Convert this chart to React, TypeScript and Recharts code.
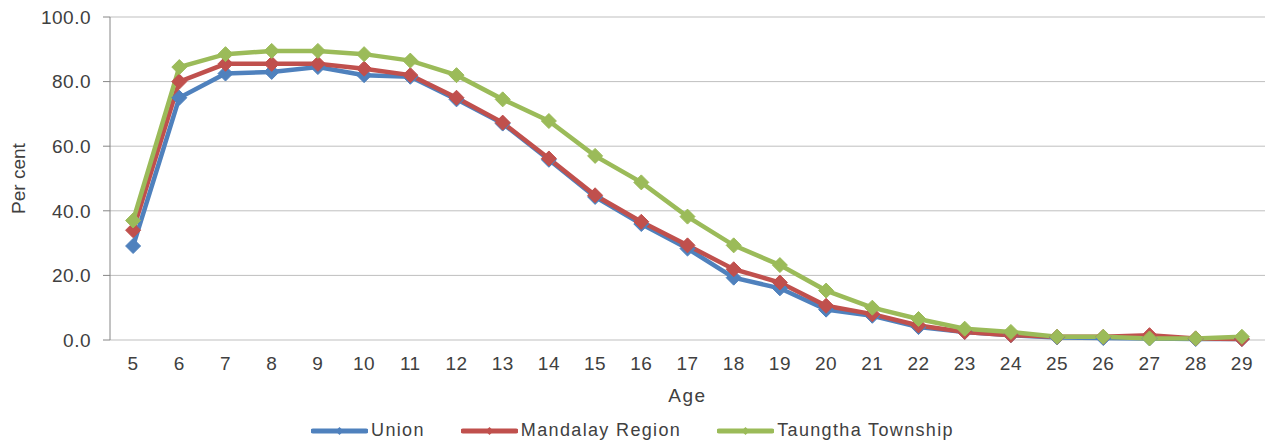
import React from "react";
import { LineChart, Line, XAxis, YAxis, CartesianGrid, Legend } from "recharts";

// ages 5..29
const ages = [5, 6, 7, 8, 9, 10, 11, 12, 13, 14, 15, 16, 17, 18, 19, 20, 21, 22, 23, 24, 25, 26, 27, 28, 29];
const union = [29.1, 75.0, 82.5, 83.0, 84.5, 82.0, 81.5, 74.5, 67.0, 55.8, 44.3, 35.9, 28.3, 19.3, 16.0, 9.4, 7.5, 4.0, 2.5, 1.5, 0.8, 0.6, 0.5, 0.3, 0.3];
const mandalay = [34.0, 80.0, 85.5, 85.5, 85.5, 84.0, 82.0, 75.0, 67.3, 56.2, 44.8, 36.6, 29.3, 21.9, 17.8, 10.6, 8.0, 4.5, 2.5, 1.5, 1.0, 1.0, 1.5, 0.5, 0.3];
const taungtha = [37.0, 84.5, 88.5, 89.5, 89.5, 88.5, 86.5, 82.0, 74.5, 67.8, 57.0, 48.8, 38.2, 29.3, 23.2, 15.3, 10.0, 6.5, 3.5, 2.5, 1.0, 1.0, 0.5, 0.5, 1.0];
const yTicks = [0, 20, 40, 60, 80, 100];
const boundaries = [4.5, ...ages.map((a) => a + 0.5)];

const series = [
  { key: "union", name: "Union", color: "#4F81BD", values: union },
  { key: "mandalay", name: "Mandalay Region", color: "#C0504D", values: mandalay },
  { key: "taungtha", name: "Taungtha Township", color: "#9BBB59", values: taungtha },
];

const data = ages.map((age, i) => ({
  age,
  union: union[i],
  mandalay: mandalay[i],
  taungtha: taungtha[i],
}));

const FONT = "'Liberation Sans', Arial, sans-serif";
const TEXT = "#404040";

function diamond(color: string, r: number) {
  return (props: any) => {
    const { cx, cy, index } = props;
    if (cx == null || cy == null) return <g key={index} />;
    return (
      <path
        key={index}
        d={`M${cx},${cy - r}L${cx + r},${cy}L${cx},${cy + r}L${cx - r},${cy}Z`}
        fill={color}
        stroke={color}
        strokeWidth={1}
      />
    );
  };
}

function LegendContent() {
  return (
    <div style={{ display: "flex", justifyContent: "center", alignItems: "center", fontFamily: FONT, fontSize: 18, color: TEXT, height: 25 }}>
      {series.map((s, i) => (
        <div key={s.key} style={{ display: "flex", alignItems: "center", marginLeft: i ? 36 : 0 }}>
          <svg width={57} height={12} style={{ marginRight: 3 }}>
            <line x1={2} y1={6} x2={55} y2={6} stroke={s.color} strokeWidth={5} strokeLinecap="round" />
            <path d="M28.5,2L32.5,6L28.5,10L24.5,6Z" fill={s.color} />
          </svg>
          <span style={{ letterSpacing: 1.35, whiteSpace: "nowrap" }}>{s.name}</span>
        </div>
      ))}
    </div>
  );
}

export default function App() {
  return (
    <div style={{ position: "absolute", left: 0, top: 0, background: "#fff" }}>
      <LineChart width={1272} height={445} data={data} margin={{ top: 17, right: 7, left: 0, bottom: 2 }}>
        <CartesianGrid vertical={false} stroke="#BFBFBF" xAxisId="age" />
        <XAxis
          xAxisId="bounds"
          type="number"
          dataKey="age"
          domain={[4.5, 29.5]}
          ticks={boundaries}
          allowDataOverflow
          tick={false}
          tickSize={6}
          height={0}
          axisLine={{ stroke: "#868686" }}
          tickLine={{ stroke: "#868686" }}
        />
        <XAxis
          xAxisId="age"
          type="number"
          dataKey="age"
          domain={[4.5, 29.5]}
          ticks={ages}
          allowDataOverflow
          interval={0}
          axisLine={false}
          tickLine={false}
          tickSize={0}
          tickMargin={17}
          height={78}
          tick={{ fontSize: 19, fill: TEXT, fontFamily: FONT, letterSpacing: 0.5 }}
          label={{ value: "Age", position: "insideBottom", offset: 16, fontSize: 19, fill: TEXT, fontFamily: FONT, letterSpacing: 1.5 }}
        />
        <YAxis
          domain={[0, 100]}
          ticks={yTicks}
          width={110}
          tickSize={7}
          tickMargin={12}
          tickFormatter={(v: number) => v.toFixed(1)}
          tick={{ fontSize: 19, fill: TEXT, fontFamily: FONT, letterSpacing: 0.5 }}
          axisLine={{ stroke: "#868686" }}
          tickLine={{ stroke: "#868686" }}
          label={{ value: "Per cent", angle: -90, position: "insideLeft", offset: 18, fontSize: 19, fill: TEXT, fontFamily: FONT, style: { textAnchor: "middle" } }}
        />
        <Legend verticalAlign="bottom" height={25} content={() => <LegendContent />} />
        {series.map((s) => (
          <Line
            key={s.key}
            xAxisId="age"
            dataKey={s.key}
            name={s.name}
            type="linear"
            stroke={s.color}
            strokeWidth={4.5}
            dot={diamond(s.color, 7.5)}
            activeDot={false}
            isAnimationActive={false}
          />
        ))}
      </LineChart>
    </div>
  );
}
